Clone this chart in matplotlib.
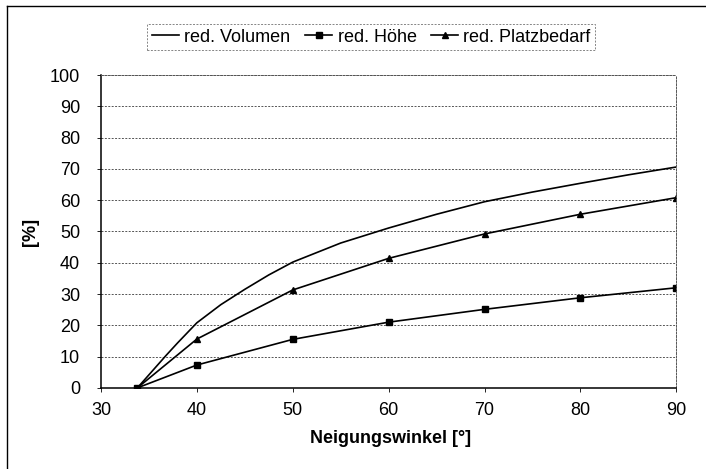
import matplotlib
matplotlib.use("Agg")
import matplotlib.pyplot as plt
from matplotlib.lines import Line2D

plt.rcParams['font.family'] = ['Liberation Sans', 'DejaVu Sans']

# values
winkel = [33.8, 40, 50, 60, 70, 80, 90]
volumen_x = [33.8, 36.8, 38, 40, 42.5, 45, 47.5, 50, 55, 60, 65, 70, 75, 80, 85, 90]
volumen = [0, 10.4, 14.4, 20.8, 26.6, 31.5, 36.1, 40.2, 46.3, 51.1, 55.5, 59.5,
           62.6, 65.4, 68.1, 70.6]
hoehe = [0, 7.3, 15.5, 21.0, 25.1, 28.8, 32.0]
platz = [0, 15.6, 31.3, 41.4, 49.2, 55.5, 60.8]

fig = plt.figure(figsize=(7.06, 4.69), dpi=100)
ax = fig.add_axes([0.143, 0.173, 0.815, 0.667])

ax.plot(volumen_x, volumen, color='black', linewidth=1.2, label='red. Volumen')
ax.plot(winkel, hoehe, color='black', linewidth=1.2, marker='s', markersize=4.5,
        label='red. Höhe')
ax.plot(winkel, platz, color='black', linewidth=1.2, marker='^', markersize=5,
        label='red. Platzbedarf')

ax.set_xlim(30, 90)
ax.set_ylim(0, 100)
ax.set_xticks(range(30, 91, 10))
ax.set_yticks(range(0, 101, 10))
ax.yaxis.grid(True, linestyle=(0, (2, 1.5)), color='#555555', linewidth=0.7)
ax.set_axisbelow(True)
ax.tick_params(axis='both', direction='out', length=3, width=0.6, labelsize=13)
ax.tick_params(axis='y', pad=12)
ax.tick_params(axis='x', pad=7)

for side in ['top', 'right']:
    ax.spines[side].set_linestyle((0, (2, 1.5)))
    ax.spines[side].set_color('#555555')
    ax.spines[side].set_linewidth(0.7)
for side in ['left', 'bottom']:
    ax.spines[side].set_linewidth(1.1)

ax.set_xlabel('Neigungswinkel [°]', fontsize=13, fontweight='bold')
ax.set_ylabel('[%]', fontsize=13, fontweight='bold')
ax.xaxis.set_label_coords(0.504, -0.135)
ax.yaxis.set_label_coords(-0.108, 0.5)

leg = fig.legend(loc='center', bbox_to_anchor=(0.526, 0.921), ncol=3,
                 fontsize=13, frameon=True, fancybox=False, handlelength=1.5,
                 handletextpad=0.3, columnspacing=0.8, borderpad=0.25,
                 borderaxespad=0)
leg.get_frame().set_edgecolor('#666666')
leg.get_frame().set_linestyle((0, (2, 1.5)))
leg.get_frame().set_linewidth(0.7)
leg.get_frame().set_facecolor('none')

# outer chart frame (left and top visible)
fig.add_artist(Line2D([0.010, 0.010], [0.0, 0.987], color='black', linewidth=1.0,
                      transform=fig.transFigure))
fig.add_artist(Line2D([0.010, 1.0], [0.987, 0.987], color='black', linewidth=1.0,
                      transform=fig.transFigure))

fig.savefig('out.png', dpi=100)
